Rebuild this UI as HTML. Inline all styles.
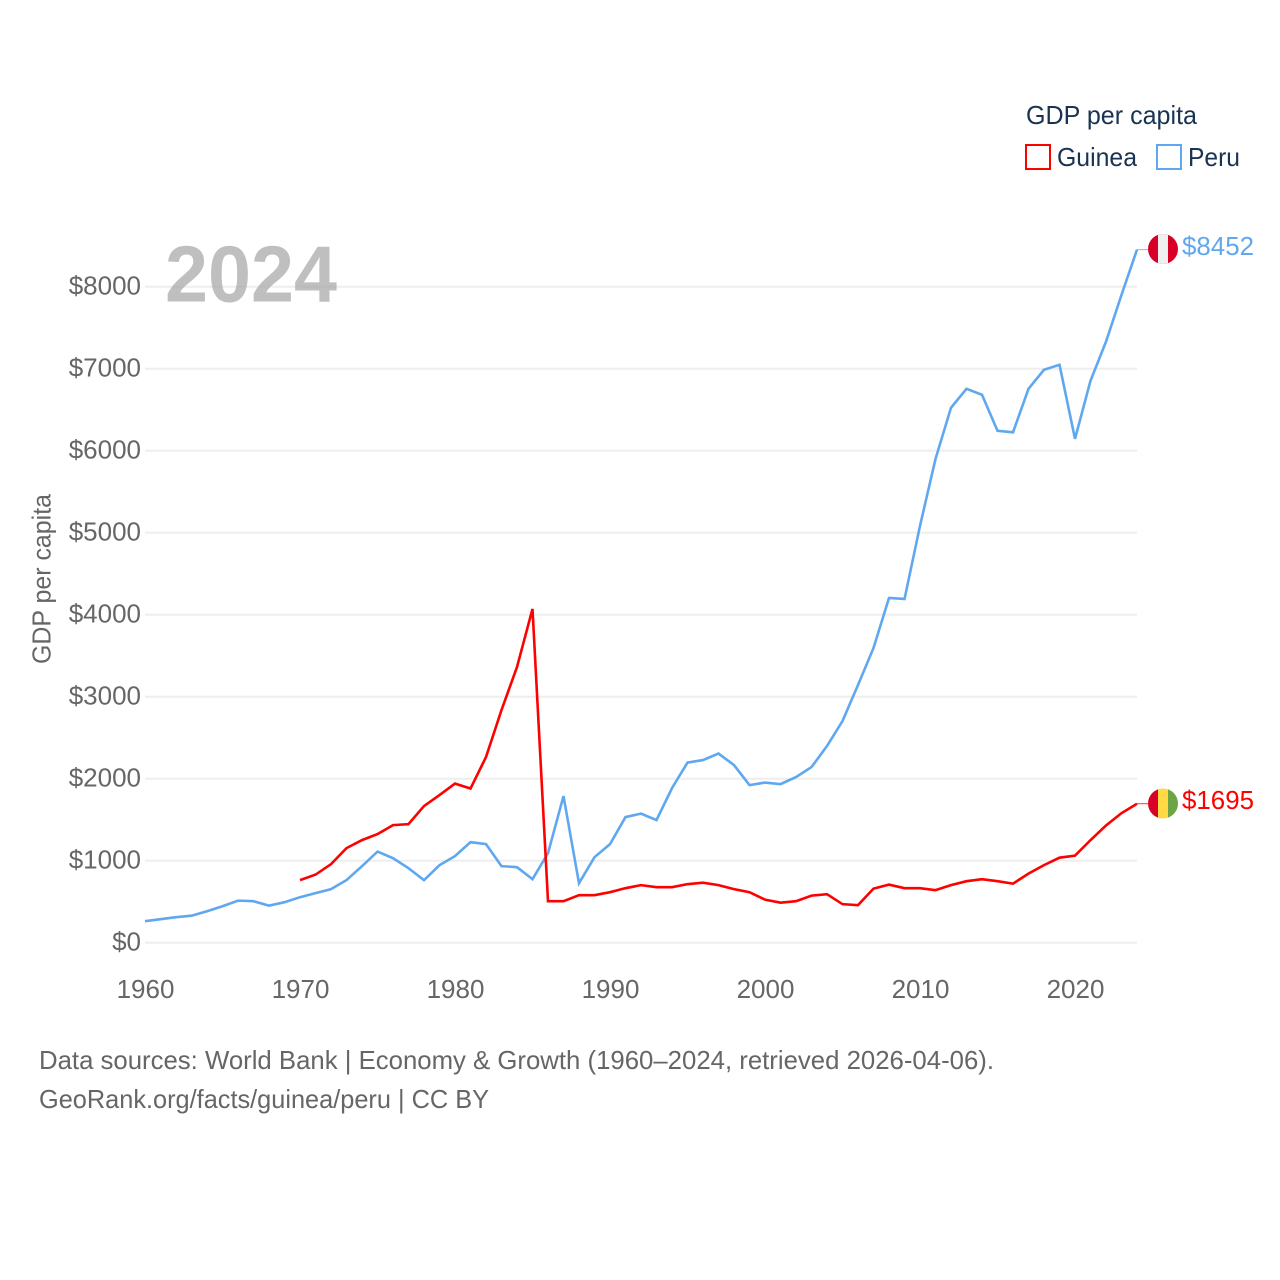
<!DOCTYPE html>
<html lang="en">
<head>
<meta charset="utf-8">
<title>GDP per capita: Guinea and Peru</title>
<style>
html,body{margin:0;padding:0;background:#fff;width:1280px;height:1280px;overflow:hidden}
svg{display:block}
text{font-family:"Liberation Sans",sans-serif}
</style>
</head>
<body>
<svg id="chart" xmlns="http://www.w3.org/2000/svg" width="1280" height="1280" viewBox="0 0 1280 1280">
  <rect width="1280" height="1280" fill="#fff"/>
  <g id="grid"></g>
  <g id="yticks"></g>
  <g id="xticks"></g>
  <text x="50.5" y="579" transform="rotate(-90 50.5 579)" text-anchor="middle" font-size="26" fill="#666" textLength="170" lengthAdjust="spacingAndGlyphs">GDP per capita</text>
  <g id="series"></g>
  <text x="165" y="301.5" font-size="80" font-weight="bold" fill="#a6a6a6" fill-opacity="0.72" textLength="172" lengthAdjust="spacingAndGlyphs">2024</text>

  <text x="1026" y="124" font-size="26" fill="#1a3352" textLength="171" lengthAdjust="spacingAndGlyphs">GDP per capita</text>
  <rect x="1026" y="145" width="24" height="24" fill="#fff" stroke="#ff0000" stroke-width="2"/>
  <text x="1057" y="166" font-size="26" fill="#1a3352" textLength="80" lengthAdjust="spacingAndGlyphs">Guinea</text>
  <rect x="1157" y="145" width="24" height="24" fill="#fff" stroke="#5fa8f0" stroke-width="2"/>
  <text x="1188" y="166" font-size="26" fill="#1a3352" textLength="52" lengthAdjust="spacingAndGlyphs">Peru</text>

  <defs>
    <clipPath id="clip-peru"><circle cx="1163" cy="249" r="15"/></clipPath>
    <clipPath id="clip-guinea"><circle cx="1163" cy="803.5" r="15"/></clipPath>
  </defs>
  <g clip-path="url(#clip-peru)">
    <rect x="1148" y="234" width="30" height="30" fill="#d80027"/>
    <rect x="1158" y="234" width="10" height="30" fill="#f0f0f0"/>
  </g>
  <g clip-path="url(#clip-guinea)">
    <rect x="1148" y="788" width="10" height="31" fill="#d80027"/>
    <rect x="1158" y="788" width="10" height="31" fill="#ffda44"/>
    <rect x="1168" y="788" width="10" height="31" fill="#6da544"/>
  </g>
  <text id="label-peru" x="1182" y="255" font-size="26" fill="#5fa8f0" textLength="72" lengthAdjust="spacingAndGlyphs"></text>
  <text id="label-guinea" x="1182" y="809" font-size="26" fill="#ff0000" textLength="72" lengthAdjust="spacingAndGlyphs"></text>

  <text x="39" y="1069" font-size="26" fill="#666" textLength="955" lengthAdjust="spacingAndGlyphs">Data sources: World Bank | Economy &amp; Growth (1960–2024, retrieved 2026-04-06).</text>
  <text x="39" y="1108" font-size="26" fill="#666" textLength="450" lengthAdjust="spacingAndGlyphs">GeoRank.org/facts/guinea/peru | CC BY</text>
</svg>
<script>
const years = [1960,1961,1962,1963,1964,1965,1966,1967,1968,1969,1970,1971,1972,1973,1974,1975,1976,1977,1978,1979,1980,1981,1982,1983,1984,1985,1986,1987,1988,1989,1990,1991,1992,1993,1994,1995,1996,1997,1998,1999,2000,2001,2002,2003,2004,2005,2006,2007,2008,2009,2010,2011,2012,2013,2014,2015,2016,2017,2018,2019,2020,2021,2022,2023,2024];
const peruValues = [262,287,311,329,384,445,513,506,452,494,555,604,653,763,933,1111,1031,909,763,946,1056,1226,1202,934,921,775,1092,1788,726,1043,1202,1532,1574,1495,1885,2197,2227,2307,2166,1922,1953,1934,2020,2142,2398,2703,3143,3594,4204,4192,5083,5900,6523,6755,6682,6243,6224,6755,6987,7048,6145,6853,7330,7900,8452];
const guineaValues = [null,null,null,null,null,null,null,null,null,null,763,830,958,1153,1251,1324,1434,1446,1666,1800,1940,1880,2264,2837,3362,4070,506,506,580,580,616,665,702,677,677,714,732,702,653,616,525,488,506,574,592,470,458,659,708,665,665,641,702,750,775,750,720,842,946,1037,1062,1251,1430,1580,1695];
const yTickValues = [0,1000,2000,3000,4000,5000,6000,7000,8000];
const xTickValues = [1960,1970,1980,1990,2000,2010,2020];

const SVG_NS = 'http://www.w3.org/2000/svg';
function xScale(year){ return 145 + (year - 1960) * 15.5; }
function yScale(value){ return 942.7 - value * 0.082; }
function make(tag, attrs, parent){
  const el = document.createElementNS(SVG_NS, tag);
  for (const k in attrs) el.setAttribute(k, attrs[k]);
  parent.appendChild(el);
  return el;
}
const grid = document.getElementById('grid');
const yticks = document.getElementById('yticks');
const xticks = document.getElementById('xticks');
const seriesGroup = document.getElementById('series');

yTickValues.forEach(function(v){
  const line = make('line', {x1:xScale(1960), x2:xScale(2024), y1:yScale(v), y2:yScale(v), stroke:'#eeeeee', 'stroke-width':2}, grid);
  
  
  const label = make('text', {x:141, y:yScale(v) + 8, 'text-anchor':'end', 'font-size':26, fill:'#666'}, yticks);
  
  
  label.textContent = '$' + v;
});
xTickValues.forEach(function(y){
  const label = make('text', {x:xScale(y) + 0.5, y:998, 'text-anchor':'middle', 'font-size':26, fill:'#666'}, xticks);
  
  
  label.textContent = String(y);
});

function drawSeries(values, color, name){
  const pts = [];
  values.forEach(function(v, i){
    if (v !== null) pts.push(xScale(years[i]).toFixed(2) + ',' + yScale(v).toFixed(2));
  });
  const line = make('polyline', {points:pts.join(' '), fill:'none', stroke:color, 'stroke-width':2.6, 'stroke-linejoin':'miter'}, seriesGroup);
  
  
  const last = values[values.length - 1];
  const lx = xScale(years[years.length - 1]);
  const connector = make('line', {x1:lx, x2:lx + 11, y1:yScale(last), y2:yScale(last), stroke:color, 'stroke-width':1, 'stroke-opacity':0.8}, seriesGroup);
  
  
}
drawSeries(peruValues, '#5fa8f0', 'line-peru');
drawSeries(guineaValues, '#ff0000', 'line-guinea');

document.getElementById('label-peru').textContent = '$' + peruValues[peruValues.length - 1];
document.getElementById('label-guinea').textContent = '$' + guineaValues[guineaValues.length - 1];
</script>
</body>
</html>
